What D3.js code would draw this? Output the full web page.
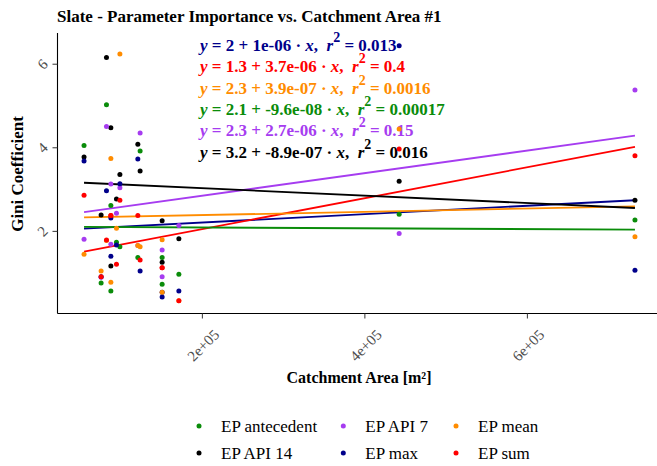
<!DOCTYPE html>
<html>
<head>
<meta charset="utf-8">
<script src="https://cdn.jsdelivr.net/npm/d3@7"></script>
<style>
  body { margin: 0; background: #ffffff; }
  svg { display: block; }
  svg text { font-family: "Liberation Serif", "Times New Roman", "DejaVu Serif", serif; white-space: pre; }
</style>
</head>
<body>
<svg id="chart" width="657" height="466" font-family="Liberation Serif, Times New Roman, DejaVu Serif, serif"></svg>
<script>
// ---- data -------------------------------------------------------------
const seriesNames  = ["EP antecedent", "EP API 14", "EP API 7", "EP max", "EP mean", "EP sum"];
const seriesColors = ["#0a8c0a", "#000000", "#a63cf0", "#00008b", "#ff8c00", "#ff0000"];

// catchment areas [m²]
const catchmentArea = [55000, 76000, 82600, 88000, 88000, 94900, 99100,
                       121200, 124000, 151100, 151100, 171700, 442800, 733000];

// Gini coefficient per parameter, one value per catchment
const epAntecedent = [4.04, 0.75, 5.02, 2.61, 0.56, 1.73, 1.62, 1.36, 3.91, 1.36, 0.72, 0.96, 2.40, 2.26];
const epApi14      = [3.77, 2.38, 6.15, 4.47, 1.16, 2.76, 3.35, 4.07, 3.43, 2.24, 1.25, 1.81, 3.19, 2.73];
const epApi7       = [1.80, 0.89, 4.50, 3.12, 1.68, 2.42, 3.03, 1.65, 4.34, 1.54, 0.90, 2.13, 1.94, 5.37];
const epMax        = [3.67, 0.90, 2.96, 2.31, 1.39, 1.66, 3.13, 3.72, 1.04, 0.42, 0.53, 0.56, 6.43, 1.06];
const epMean       = [1.44, 1.04, 1.77, 3.73, 0.77, 2.06, 6.23, 1.65, 1.62, 1.79, 0.53, 0.33, 4.44, 1.86];
const epSum        = [2.85, 0.90, 1.78, 2.37, 2.37, 1.20, 2.73, 2.37, 1.30, 1.12, 1.12, 0.33, 3.96, 3.80];
const seriesValues = [epAntecedent, epApi14, epApi7, epMax, epMean, epSum];

// linear fits (y = a + b·x), listed in label order
const fitSeries    = ["EP max", "EP sum", "EP mean", "EP antecedent", "EP API 7", "EP API 14"];
const fitIntercept = [2, 1.3, 2.3, 2.1, 2.3, 3.2];
const fitSlope     = [1e-6, 3.7e-6, 3.9e-7, -9.6e-8, 2.7e-6, -8.9e-7];
const fitR2        = [0.013, 0.4, 0.0016, 0.00017, 0.15, 0.016];

// axis ticks
const xTickValues = [2e5, 4e5, 6e5];
const xTickLabels = ["2e+05", "4e+05", "6e+05"];
const yTickValues = [2, 4, 6];
const yTickLabels = ["2", "4", "6"];

// ---- drawing ----------------------------------------------------------
const FONT = "Liberation Serif, Times New Roman, DejaVu Serif, serif";
const svg = d3.select("#chart");
const colorOf = d3.scaleOrdinal().domain(seriesNames).range(seriesColors);

const allVals = seriesValues.flat();
const xExt = d3.extent(catchmentArea);
const yExt = d3.extent(allVals);
const xPad = (xExt[1] - xExt[0]) * 0.05;
const yPad = (yExt[1] - yExt[0]) * 0.05;

const x = d3.scaleLinear().domain([xExt[0] - xPad, xExt[1] + xPad]).range([56.5, 662.5]);
const y = d3.scaleLinear().domain([yExt[0] - yPad, yExt[1] + yPad]).range([313.4, 33]);

const axisLeftX = 57.5;
const axisBottomY = 313.5;

// title
svg.append("text")
  .attr("x", 57).attr("y", 22)
  .attr("font-family", FONT)
  .attr("font-size", 17).attr("font-weight", "bold").attr("fill", "#000")
  .text("Slate - Parameter Importance vs. Catchment Area #1");

// fitted lines
const line = d3.line().x(d => x(d[0])).y(d => y(d[1]));
fitSeries.forEach((name, i) => {
  const pts = xExt.map(a => [a, fitIntercept[i] + fitSlope[i] * a]);
  svg.append("path")
    .attr("d", line(pts))
    .attr("fill", "none")
    .attr("stroke", colorOf(name))
    .attr("stroke-width", 1.8);
});

// fit equations
function sci(v) {
  const [m, e] = v.toExponential().split("e");
  const ev = +e;
  return m + "e" + (ev < 0 ? "-" : "+") + String(Math.abs(ev)).padStart(2, "0");
}
const eqG = svg.append("g").attr("font-family", FONT).attr("font-size", 17).attr("font-weight", "bold");
fitSeries.forEach((name, i) => {
  const t = eqG.append("text")
    .attr("x", 200).attr("y", 51 + i * 21.35)
    .attr("fill", colorOf(name))
    .attr("xml:space", "preserve");
  t.append("tspan").attr("font-style", "italic").text("y");
  t.append("tspan").text(" = " + fitIntercept[i] + " + " + sci(fitSlope[i]) + " \u00B7 ");
  t.append("tspan").attr("font-style", "italic").text("x");
  t.append("tspan").text(",  ");
  t.append("tspan").attr("font-style", "italic").text("r");
  t.append("tspan").attr("dy", -9).attr("font-size", 14).text("2");
  t.append("tspan").attr("dy", 9).text(" = " + fitR2[i]);
});

// points
seriesNames.forEach((name, s) => {
  svg.append("g").selectAll("circle")
    .data(catchmentArea.map((a, k) => [a, seriesValues[s][k]]))
    .join("circle")
    .attr("cx", d => x(d[0]))
    .attr("cy", d => y(d[1]))
    .attr("r", 2.5)
    .attr("fill", colorOf(name));
});

// y axis
const yAxis = svg.append("g")
  .attr("transform", `translate(${axisLeftX},0)`)
  .call(d3.axisLeft(y).tickValues(yTickValues).tickSize(5).tickSizeOuter(0)
        .tickFormat((d, i) => yTickLabels[i]));
yAxis.select(".domain").attr("stroke", "#000").attr("stroke-width", 1.1)
  .attr("d", `M0,${y.range()[1]}V${axisBottomY}`);
yAxis.selectAll(".tick line").attr("stroke", "#333");
yAxis.selectAll(".tick text")
  .attr("x", null).attr("dy", null)
  .attr("text-anchor", "middle")
  .attr("dominant-baseline", "central")
  .attr("transform", "translate(-15,0) rotate(-45)")
  .attr("font-size", 15).attr("font-family", FONT)
  .attr("fill", "#4d4d4d");

// x axis
const xAxis = svg.append("g")
  .attr("transform", `translate(0,${axisBottomY})`)
  .call(d3.axisBottom(x).tickValues(xTickValues).tickSize(5).tickSizeOuter(0)
        .tickFormat((d, i) => xTickLabels[i]));
xAxis.select(".domain").attr("stroke", "#000").attr("stroke-width", 1.1)
  .attr("d", `M${axisLeftX},0H${x.range()[1]}`);
xAxis.selectAll(".tick line").attr("stroke", "#333");
xAxis.selectAll(".tick text")
  .attr("y", null).attr("dy", null)
  .attr("text-anchor", "middle")
  .attr("dominant-baseline", "central")
  .attr("transform", "translate(1,32) rotate(-45)")
  .attr("font-size", 15).attr("font-family", FONT)
  .attr("fill", "#4d4d4d");

// axis titles
svg.append("text")
  .attr("x", 359).attr("y", 383)
  .attr("text-anchor", "middle")
  .attr("font-family", FONT)
  .attr("font-size", 16).attr("font-weight", "bold")
  .text("Catchment Area [m\u00B2]");
svg.append("text")
  .attr("transform", "translate(23,174) rotate(-90)")
  .attr("text-anchor", "middle")
  .attr("font-family", FONT)
  .attr("font-size", 17).attr("font-weight", "bold")
  .text("Gini Coefficient");

// legend (2 rows, filled column by column)
const legendDotX = [199, 343.3, 456];
const legendRowY = [426, 453];
const legend = svg.append("g").attr("font-family", FONT).attr("font-size", 17);
seriesNames.forEach((name, i) => {
  const col = Math.floor(i / 2), row = i % 2;
  const g = legend.append("g")
    .attr("transform", `translate(${legendDotX[col]},${legendRowY[row]})`);
  g.append("circle").attr("r", 2.5).attr("fill", colorOf(name));
  g.append("text").attr("x", 22).attr("y", 6).attr("fill", "#000").text(name);
});
</script>
</body>
</html>
